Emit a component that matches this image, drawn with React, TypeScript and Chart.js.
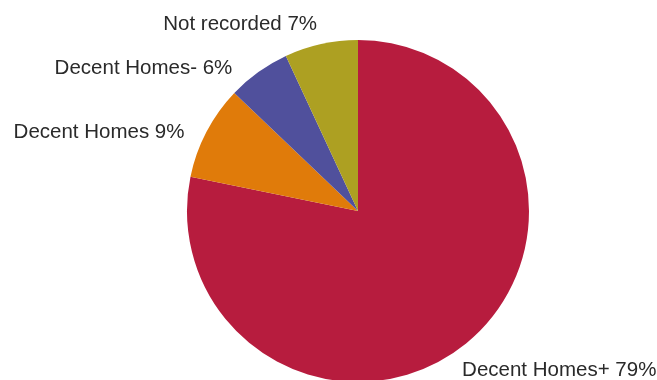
import React, { useEffect, useRef } from "react";
import { Chart, registerables } from "chart.js";

Chart.register(...registerables);

const categories = ["Decent Homes+", "Decent Homes", "Decent Homes-", "Not recorded"];
const values = [79, 9, 6, 7];
const labelTexts = ["Decent Homes+ 79%", "Decent Homes 9%", "Decent Homes- 6%", "Not recorded 7%"];
const colors = ["#B71C3E", "#E07B0A", "#50509C", "#ADA022"];
// label placement relative to the outer mid-point of each slice: [dx, dy, align]
const labelPlacement: [number, number, CanvasTextAlign][] = [
  [-4, 32.5, "left"],
  [-22, 6, "right"],
  [-26, 2, "right"],
  [-4, -14, "right"],
];

const labelPlugin = {
  id: "pieLabels",
  afterDatasetsDraw(chart: any) {
    const ctx = chart.ctx;
    const meta = chart.getDatasetMeta(0);
    ctx.save();
    ctx.font = '20.5px "Liberation Sans", Arial, sans-serif';
    ctx.fillStyle = "#2a2a2a";
    ctx.textBaseline = "alphabetic";
    meta.data.forEach((arc: any, i: number) => {
      const { x, y, startAngle, endAngle, outerRadius } = arc.getProps(
        ["x", "y", "startAngle", "endAngle", "outerRadius"],
        true
      );
      const mid = (startAngle + endAngle) / 2;
      const ax = x + Math.cos(mid) * outerRadius;
      const ay = y + Math.sin(mid) * outerRadius;
      const [dx, dy, align] = labelPlacement[i];
      ctx.textAlign = align;
      ctx.fillText(labelTexts[i], ax + dx, ay + dy);
    });
    ctx.restore();
  },
};

export default function App() {
  const ref = useRef<HTMLCanvasElement>(null);
  useEffect(() => {
    document.body.style.margin = "0";
    document.body.style.overflow = "hidden";
    const chart = new Chart(ref.current!, {
      type: "pie",
      data: {
        labels: categories,
        datasets: [
          {
            data: values,
            backgroundColor: colors,
            borderWidth: 0,
          },
        ],
      },
      options: {
        animation: false,
        responsive: false,
        maintainAspectRatio: false,
        rotation: 0,
        layout: { padding: { top: 40, left: 59, right: 0, bottom: 0 } },
        plugins: {
          legend: { display: false },
          tooltip: { enabled: false },
        },
      },
      plugins: [labelPlugin],
    });
    return () => chart.destroy();
  }, []);
  return (
    <div style={{ width: 657, height: 382 }}>
      <canvas ref={ref} width={657} height={382} style={{ display: "block" }} />
    </div>
  );
}
